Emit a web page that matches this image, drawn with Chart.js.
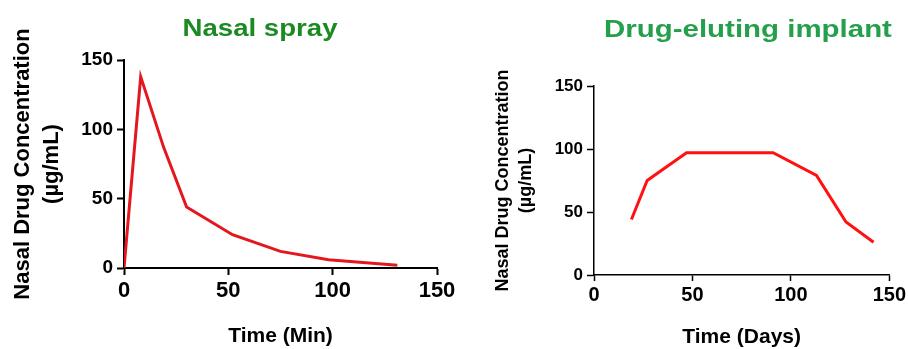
<!DOCTYPE html>
<html lang="en">
<head>
  <meta charset="UTF-8" />
  <title>Nasal spray vs drug-eluting implant</title>
  <script src="https://cdn.jsdelivr.net/npm/chart.js@4"></script>
  <style>
    body {
      margin: 0;
      padding: 0;
      background: #ffffff;
    }

    #wrap {
      position: relative;
      width: 908px;
      height: 349px;
      overflow: hidden;
    }

    .panel {
      position: absolute;
      top: 0;
      height: 349px;
    }

    #left-panel { left: 0; width: 460px; }
    #right-panel { left: 460px; width: 448px; }
  </style>
</head>
<body>
  <div id="wrap">
    <div class="panel" id="left-panel"><canvas id="sprayChart"></canvas></div>
    <div class="panel" id="right-panel"><canvas id="implantChart"></canvas></div>
  </div>

  <script>
    // values
    const sprayMinutes = [0, 8, 19, 30, 52, 75, 98, 131];
    const sprayConc = [0, 138, 87, 44, 24, 12, 6, 2];

    const implantDays = [19, 27, 47, 91, 113, 128, 142];
    const implantConc = [44, 75, 97, 97, 79, 42, 26];

    const axisTicks = [0, 50, 100, 150];

    const yTitleLines = ['Nasal Drug Concentration', '(\u00b5g/mL)'];

    const FONT = 'Arial, "Liberation Sans", Helvetica, sans-serif';

    // draws the green heading, a little stretched like the original
    const panelTitle = {
      id: 'panelTitle',
      afterDraw(chart, args, opts) {
        const c = chart.ctx;
        c.save();
        c.font = 'bold ' + opts.size + 'px ' + FONT;
        c.fillStyle = opts.color;
        c.textAlign = 'center';
        c.textBaseline = 'alphabetic';
        c.translate(opts.x, opts.y);
        c.scale(opts.stretch, 1);
        c.fillText(opts.text, 0, 0);
        c.restore();
      }
    };

    function toPoints(xs, ys) {
      return xs.map((x, i) => ({ x: x, y: ys[i] }));
    }

    function makeChart(canvasId, cfg) {
      const ctx = document.getElementById(canvasId).getContext('2d');
      return new Chart(ctx, {
        type: 'line',
        data: {
          datasets: [{
            data: toPoints(cfg.xs, cfg.ys),
            borderColor: cfg.lineColor,
            borderWidth: 3,
            pointRadius: 0,
            tension: 0,
            fill: false
          }]
        },
        options: {
          responsive: true,
          maintainAspectRatio: false,
          animation: false,
          layout: {
            padding: { top: cfg.top, right: cfg.right, left: 0, bottom: 0 }
          },
          plugins: {
            legend: { display: false },
            tooltip: { enabled: false },
            panelTitle: cfg.title
          },
          scales: {
            x: {
              type: 'linear',
              min: 0,
              max: 150,
              afterBuildTicks: axis => { axis.ticks = axisTicks.map(v => ({ value: v })); },
              afterFit: axis => { axis.height = cfg.xHeight; },
              border: { display: true, color: '#000', width: cfg.axisWidth },
              grid: {
                display: true,
                drawOnChartArea: false,
                tickLength: cfg.xTickLen,
                tickColor: '#000',
                tickWidth: cfg.axisWidth
              },
              ticks: {
                color: '#000',
                padding: cfg.xTickPad,
                font: { family: FONT, size: cfg.xTickSize, weight: 'bold' }
              },
              title: {
                display: true,
                text: cfg.xTitle,
                color: '#000',
                padding: { top: 0, bottom: cfg.xTitlePad },
                font: { family: FONT, size: cfg.xTitleSize, weight: 'bold', lineHeight: 1.1 }
              }
            },
            y: {
              min: 0,
              max: 150,
              afterBuildTicks: axis => { axis.ticks = axisTicks.map(v => ({ value: v })); },
              afterFit: axis => { axis.width = cfg.yWidth; },
              border: { display: true, color: '#000', width: cfg.axisWidth },
              grid: {
                display: true,
                drawOnChartArea: false,
                tickLength: 7,
                tickColor: '#000',
                tickWidth: cfg.axisWidth
              },
              ticks: {
                color: '#000',
                padding: 4,
                font: { family: FONT, size: cfg.yTickSize, weight: 'bold' }
              },
              title: {
                display: true,
                text: yTitleLines,
                color: '#000',
                padding: { top: cfg.yTitlePad, bottom: 0 },
                font: { family: FONT, size: cfg.yTitleSize, weight: 'bold', lineHeight: 1.3 }
              }
            }
          }
        },
        plugins: [panelTitle]
      });
    }

    makeChart('sprayChart', {
      xs: sprayMinutes,
      ys: sprayConc,
      lineColor: '#e3171d',
      top: 60,
      right: 23,
      xHeight: 81,
      yWidth: 124,
      axisWidth: 2,
      xTickLen: 7,
      xTickPad: 3,
      xTickSize: 22,
      yTickSize: 19,
      xTitle: 'Time (Min)',
      xTitleSize: 21,
      xTitlePad: 1,
      yTitleSize: 22,
      yTitlePad: 9,
      title: { text: 'Nasal spray', color: '#1b8a22', size: 23, stretch: 1.2, x: 260, y: 36 }
    });

    makeChart('implantChart', {
      xs: implantDays,
      ys: implantConc,
      lineColor: '#ff1111',
      top: 86,
      right: 18,
      xHeight: 74,
      yWidth: 134,
      axisWidth: 1.5,
      xTickLen: 6,
      xTickPad: 2,
      xTickSize: 20,
      yTickSize: 17,
      xTitle: 'Time (Days)',
      xTitleSize: 21,
      xTitlePad: 0,
      yTitleSize: 18,
      yTitlePad: 31,
      title: { text: 'Drug-eluting implant', color: '#24a04c', size: 23, stretch: 1.28, x: 288, y: 37 }
    });
  </script>
</body>
</html>
